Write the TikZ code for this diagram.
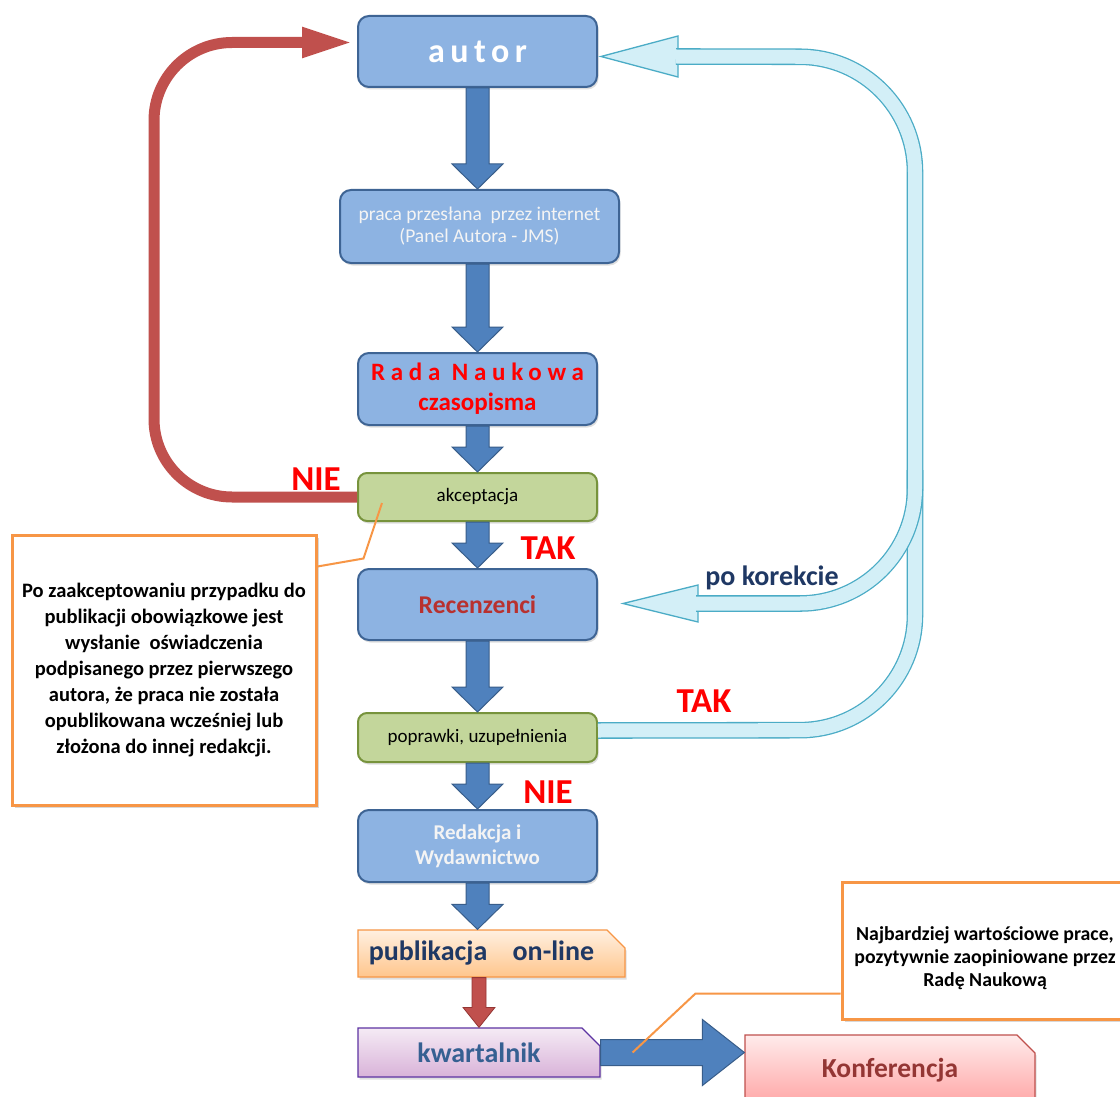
\documentclass[tikz,border=0pt]{standalone}
\usepackage{fontspec}
\setmainfont{Carlito}
\usetikzlibrary{calc,shapes.misc,shadows,arrows.meta}

\definecolor{boxblue}{HTML}{8DB3E2}
\definecolor{boxblueb}{HTML}{3E6494}
\definecolor{arrblue}{HTML}{4F81BD}
\definecolor{arrblueb}{HTML}{385D8A}
\definecolor{boxgreen}{HTML}{C3D69B}
\definecolor{boxgreenb}{HTML}{77933C}
\definecolor{loopred}{HTML}{C0504D}
\definecolor{loopredb}{HTML}{943634}
\definecolor{cyanfill}{HTML}{D3EFF7}
\definecolor{cyanb}{HTML}{4BACC6}
\definecolor{callorange}{HTML}{F79646}
\definecolor{navy}{HTML}{1F3864}
\definecolor{steel}{HTML}{366092}
\definecolor{darkred}{HTML}{943634}
\definecolor{recred}{HTML}{B8312F}
\definecolor{lightwhite}{HTML}{F4F4F4}

\newcommand\vfatarrow[6]{%
  \path[#1] let \p1=#2, \p2=#3 in
    (\x1-#4,\y1) -- (\x1-#4,\y2+#6) -- (\x1-#5,\y2+#6) -- (\x1,\y2)
    -- (\x1+#5,\y2+#6) -- (\x1+#4,\y2+#6) -- (\x1+#4,\y1) -- cycle;}
\newcommand\hfatarrow[6]{%
  \path[#1] let \p1=#2, \p2=#3 in
    (\x1,\y1+#4) -- (\x2-#6,\y1+#4) -- (\x2-#6,\y1+#5) -- (\x2,\y1)
    -- (\x2-#6,\y1-#5) -- (\x2-#6,\y1-#4) -- (\x1,\y1-#4) -- cycle;}

\tikzset{
  softshadow/.style={drop shadow={shadow xshift=1.5pt, shadow yshift=-2.5pt, opacity=0.25}},
  bluebox/.style={draw=boxblueb, line width=2pt, fill=boxblue, rounded corners=11pt,
    minimum width=239pt, minimum height=71pt, align=center, inner sep=0pt, softshadow},
  greenbox/.style={draw=boxgreenb, line width=2pt, fill=boxgreen, rounded corners=9pt,
    minimum width=239pt, minimum height=48pt, align=center, inner sep=0pt, softshadow,
    font=\fontsize{19}{22}\selectfont},
  snipbox/.style={shape=chamfered rectangle, chamfered rectangle corners=north east,
    chamfered rectangle xsep=9pt, chamfered rectangle ysep=9pt,
    line width=1.2pt, inner sep=0pt, align=center, softshadow},
  callout/.style={draw=callorange, line width=3pt, fill=white, align=center, inner sep=0pt,
    drop shadow={shadow xshift=3pt, shadow yshift=-3pt, opacity=0.3}},
  pointer/.style={draw=callorange, line width=2pt},
  bluearrow/.style={fill=arrblue, draw=arrblueb, line width=1pt},
  redarrow/.style={fill=loopred, draw=loopredb, line width=0.8pt},
  redloop/.style={draw=loopred, line width=11pt, rounded corners=78pt,
    -{Triangle[length=51pt,width=28pt]}},
  cyanline/.style={draw=cyanb, line width=1.3pt, double=cyanfill, double distance=14pt,
    rounded corners=115pt},
  cyanhead/.style={fill=cyanfill, draw=cyanb, line width=1.3pt, line join=miter},
  decision/.style={text=red, font=\fontsize{35}{35}\selectfont\bfseries, inner sep=0pt},
}

\begin{document}
\begin{tikzpicture}[x=1pt,y=-1pt]
\useasboundingbox (0,0) rectangle (1120,1097);
\clip (0,0) rectangle (1120,1097);
\fill[white] (0,0) rectangle (1120,1097);

% main boxes
\node[bluebox] (autor) at (477.5,51.5)
  {\color{white}\fontsize{34}{34}\selectfont\bfseries\addfontfeatures{LetterSpace=16}autor};
\node[bluebox, minimum width=279pt, minimum height=73pt, text=lightwhite,
  font=\fontsize{19.5}{22}\selectfont] (praca) at (479.5,226.5)
  {praca przesłana\ \ przez internet\\(Panel Autora - JMS)};
\node[bluebox, minimum height=72pt, text=red, font=\fontsize{25}{30}\selectfont\bfseries] (rada) at (477.5,389)
  {{\addfontfeatures{LetterSpace=23}Rada Naukowa}\\czasopisma};
\node[greenbox] (akcept) at (477.5,497) {akceptacja};
\node[bluebox, text=recred, font=\fontsize{25.6}{30}\selectfont\bfseries] (recenz) at (477.5,604.5) {Recenzenci};
\node[greenbox, minimum height=49pt] (popraw) at (477.5,737.5) {poprawki, uzupełnienia};
\node[bluebox, minimum height=72pt, text=lightwhite, font=\fontsize{21}{25}\selectfont\bfseries] (redak) at (477.5,846)
  {Redakcja i\\Wydawnictwo};
\node[snipbox, draw=callorange, top color=orange!12, bottom color=orange!45!white,
  minimum width=267pt, minimum height=47pt, text=navy, font=\fontsize{28}{28}\selectfont\bfseries]
  (publik) at (491.5,953.5) {publikacja\ \ \ \ on-line\hspace*{20pt}};
\node[snipbox, draw=violet!55!blue!60!gray, top color=violet!8, bottom color=violet!30,
  minimum width=242pt, minimum height=49pt, text=steel, font=\fontsize{28}{28}\selectfont\bfseries]
  (kwart) at (479,1052.5) {kwartalnik};
\node[snipbox, draw=loopred, top color=red!8, bottom color=red!35,
  minimum width=290pt, minimum height=70pt, text=darkred, font=\fontsize{27.5}{27.5}\selectfont\bfseries]
  (konf) at (890,1070) {Konferencja};

% callouts
\node[callout, minimum width=304pt, minimum height=270pt, font=\fontsize{20.5}{26}\selectfont\bfseries]
  (cleft) at (164,670)
  {Po zaakceptowaniu przypadku do\\publikacji obowiązkowe jest\\wysłanie\ \ oświadczenia\\podpisanego przez pierwszego\\autora, że praca nie została\\opublikowana wcześniej lub\\złożona do innej redakcji.};
\node[callout, minimum width=286pt, minimum height=137pt, font=\fontsize{19.8}{23}\selectfont\bfseries]
  (cright) at (985,950.5)
  {\raisebox{-8pt}[\height][\depth]{\begin{tabular}{@{}c@{}}Najbardziej wartościowe prace,\\pozytywnie zaopiniowane przez\\Radę Naukową\end{tabular}}};

% blue block arrows
\vfatarrow{bluearrow}{(autor.south)}{(praca.north)}{11.5pt}{25.5pt}{25pt}
\vfatarrow{bluearrow}{(praca.south -| autor.south)}{(rada.north)}{11.5pt}{25.5pt}{25pt}
\vfatarrow{bluearrow}{(rada.south)}{(akcept.north)}{11.5pt}{25.5pt}{25pt}
\vfatarrow{bluearrow}{(akcept.south)}{(recenz.north)}{11.5pt}{25.5pt}{25pt}
\vfatarrow{bluearrow}{(recenz.south)}{(popraw.north)}{11.5pt}{25.5pt}{25pt}
\vfatarrow{bluearrow}{(popraw.south)}{(redak.north)}{11.5pt}{25.5pt}{25pt}
\vfatarrow{bluearrow}{(redak.south)}{(publik.north -| redak.south)}{11.5pt}{25.5pt}{25pt}
\vfatarrow{redarrow}{(publik.south -| kwart.north)}{(kwart.north)}{7pt}{16pt}{20pt}
\hfatarrow{bluearrow}{(kwart.east)}{(konf.west)}{13pt}{33pt}{42pt}

% callout pointers
\draw[pointer] ($(cleft.north east)+(0,33)$) -- ++(46,-8) -- ($(akcept.west)+(25,6)$);
\draw[pointer] ($(cright.south west)+(0,-27)$) -- ++(-145,0) -- ($(kwart.east)+(32,0)$);

% red NIE loop
\draw[redloop] (akcept.west) -- ++(-203,0) |- ($(autor.west)+(-4,-9)$);

% cyan loops
\coordinate (cbr) at (915,730);
\coordinate (ctr) at (915,57);
\coordinate (cbranch) at (915,470);
\filldraw[cyanhead] ($(autor.east)+(3,5)$) -- ++(77,-20.5) -- ++(0,41) -- cycle;
\filldraw[cyanhead] ($(recenz.east)+(25,-1)$) -- ++(75,-18.5) -- ++(0,37) -- cycle;
\draw[cyanline] ($(popraw.east)+(0,-7)$) -- (cbr) -- (ctr) -- ($(autor.east)+(78,5)$);
\draw[cyanline] (cbranch) |- ($(recenz.east)+(98,-1)$);

% labels
\node[decision] (nie1) at (316,479) {NIE};
\node[decision] (tak1) at (548,548) {TAK};
\node[decision] (tak2) at (704,701) {TAK};
\node[decision] (nie2) at (548,792) {NIE};
\node[text=navy, font=\fontsize{28}{28}\selectfont\bfseries, inner sep=0pt] (pokor) at (772,578) {po korekcie};
\end{tikzpicture}
\end{document}
